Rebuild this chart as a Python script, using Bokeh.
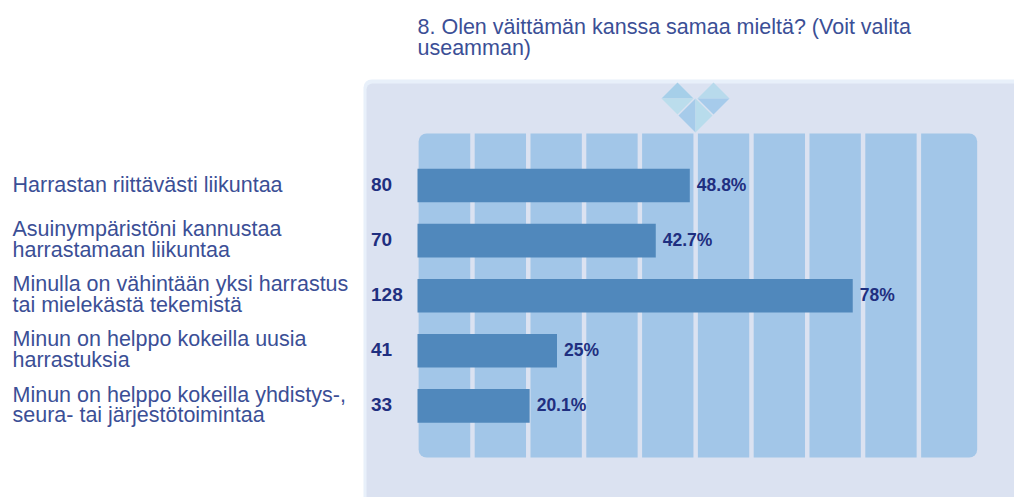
from bokeh.plotting import figure
from bokeh.models import BoxAnnotation, Range1d
from bokeh.core.properties import value
from bokeh.embed import file_html
from bokeh.resources import INLINE

title_lines = ["8. Olen väittämän kanssa samaa mieltä? (Voit valita", "useamman)"]
categories = [
    "Harrastan riittävästi liikuntaa",
    "Asuinympäristöni kannustaa\nharrastamaan liikuntaa",
    "Minulla on vähintään yksi harrastus\ntai mielekästä tekemistä",
    "Minun on helppo kokeilla uusia\nharrastuksia",
    "Minun on helppo kokeilla yhdistys-,\nseura- tai järjestötoimintaa",
]
counts = [80, 70, 128, 41, 33]
percents = [48.8, 42.7, 78, 25, 20.1]
percent_labels = ["48.8%", "42.7%", "78%", "25%", "20.1%"]
grid_ticks = [0, 10, 20, 30, 40, 50, 60, 70, 80, 90]

W, H = 1014, 497
PX_PER_PCT = 5.58
ROW = 55.1
X0, Y0 = 417, 185


def fx(px):
    return (px - X0) / PX_PER_PCT


def fy(px):
    return (px - Y0) / ROW


p = figure(width=W, height=H, output_backend="svg", toolbar_location=None,
           x_range=Range1d(fx(0), fx(W)), y_range=Range1d(fy(H), fy(0)),
           min_border=0, outline_line_color=None, background_fill_color="white",
           border_fill_color="white")
p.xaxis.visible = False
p.yaxis.visible = False
p.grid.visible = False

# panel
p.add_layout(BoxAnnotation(left=fx(363), right=fx(1040), top=fy(79), bottom=fy(530),
                           fill_color="#E8F0FA", fill_alpha=1, line_color=None,
                           border_radius=8, level="underlay"))
p.add_layout(BoxAnnotation(left=fx(366), right=fx(1040), top=fy(83), bottom=fy(530),
                           fill_color="#DBE2F1", fill_alpha=1, line_color=None,
                           border_radius=6, level="underlay"))

# grid columns
n = len(grid_ticks)
for i, t in enumerate(grid_ticks):
    left = t + (0.25 if i else 0.2)
    right = t + 10 - 0.55 if i < n - 1 else t + 10.3
    radius = 0
    if i == 0:
        radius = dict(top_left=8, top_right=0, bottom_right=0, bottom_left=8)
    elif i == n - 1:
        radius = dict(top_left=0, top_right=8, bottom_right=8, bottom_left=0)
    p.add_layout(BoxAnnotation(left=left, right=right, top=fy(133), bottom=fy(457),
                               fill_color="#A2C6E8", fill_alpha=1, line_color=None,
                               border_radius=radius, level="underlay"))

# emblem
def diamond(cx, cy, r, c1, c2, vertical):
    if vertical:
        a = ([cx - r, cx, cx], [cy, cy - r, cy + r])
        b = ([cx + r, cx, cx], [cy, cy - r, cy + r])
    else:
        a = ([cx - r, cx, cx + r], [cy, cy - r, cy])
        b = ([cx - r, cx, cx + r], [cy, cy + r, cy])
    for (xs, ys), c in ((a, c1), (b, c2)):
        p.patch([fx(v) for v in xs], [fy(v) for v in ys], fill_color=c, line_color=None)


diamond(677, 98, 16, "#A6CFE9", "#BBDDEC", False)
diamond(713, 98, 16, "#B8DAEC", "#A6CBEB", False)
diamond(695, 115, 17, "#A6CBEA", "#B8DCEC", True)

# bars
ys = list(range(len(categories)))
p.hbar(y=ys, left=0, right=percents, height=0.61, fill_color="#5088BC", line_color=None)

FONT = value("Liberation Sans")
label_ys = [y - 1.0 / ROW for y in ys]
count_ys = [y - 1.5 / ROW for y in ys]
pct_ys = [y - 0.7 / ROW for y in ys]
p.text(x=[fx(12)] * 5, y=label_ys, text=categories, text_font=FONT, text_font_size="21.5px",
       text_color="#3B4F96", text_align="left", text_baseline="middle", text_line_height=0.86)
p.text(x=[fx(370.5)] * 5, y=count_ys, text=[str(c) for c in counts], text_font=FONT,
       text_font_size="19px", text_font_style="bold", text_color="#1F2F80",
       text_align="left", text_baseline="middle")
p.text(x=[v + 7 / PX_PER_PCT for v in percents], y=pct_ys, text=percent_labels, text_font=FONT,
       text_font_size="17.5px", text_font_style="bold", text_color="#1F2F80",
       text_align="left", text_baseline="middle")
p.text(x=[fx(417)] * 2, y=[fy(26), fy(47)], text=title_lines, text_font=FONT,
       text_font_size="21.5px", text_color="#3B4F96", text_align="left", text_baseline="middle")

open("out.html", "w").write(file_html(p, INLINE))
